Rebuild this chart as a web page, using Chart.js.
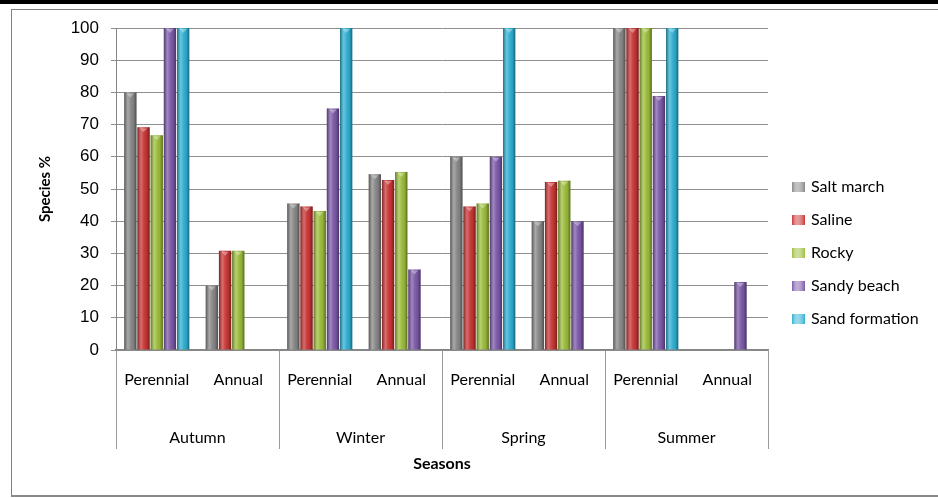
<!DOCTYPE html>
<html>
<head>
<meta charset="utf-8">
<script src="https://cdn.jsdelivr.net/npm/chart.js@4.4.1/dist/chart.umd.min.js"></script>
<style>
  html, body { margin: 0; padding: 0; background: #fff; }
  #wrap { position: relative; width: 938px; height: 498px; overflow: hidden; }
  #topbar { position: absolute; left: 0; top: 0; width: 938px; height: 4px; background: #000; }
  #frame { position: absolute; left: 11px; top: 9px; width: 940px; height: 485px;
           border: 1px solid #808080; border-bottom: 2px solid #8a8a8a; }
  canvas { position: absolute; left: 0; top: 0; }
</style>
</head>
<body>
<div id="wrap">
  <div id="topbar"></div>
  <div id="frame"></div>
  <canvas id="c" width="938" height="498"></canvas>
</div>
<script>
// Life-form categories, grouped by season
const lifeForms = ['Perennial', 'Annual', 'Perennial', 'Annual', 'Perennial', 'Annual', 'Perennial', 'Annual'];
const seasons = ['Autumn', 'Winter', 'Spring', 'Summer'];

// Species % per habitat (Autumn P/A, Winter P/A, Spring P/A, Summer P/A)
const saltMarch     = [80,   20,   45.5, 54.6, 60,   40,   100,  0];
const saline        = [69.2, 30.8, 44.6, 52.8, 44.6, 52.2, 100,  0];
const rocky         = [66.7, 30.8, 43.2, 55.3, 45.5, 52.6, 100,  0];
const sandyBeach    = [100,  0,    75,   25,   60,   40,   78.9, 21.1];
const sandFormation = [100,  0,    100,  0,    100,  0,    100,  0];

const habitatNames = ['Salt march', 'Saline', 'Rocky', 'Sandy beach', 'Sand formation'];
const habitatColors = ['#878787', '#c93434', '#9cbd3a', '#7b58a8', '#2eafd2'];
const yTickStep = 10;

const series = [saltMarch, saline, rocky, sandyBeach, sandFormation];

// Shades each bar like a cylinder: dark edges, bright stripe left of centre
const cylinderShade = {
  id: 'cylinderShade',
  afterDatasetsDraw(chart) {
    const ctx = chart.ctx;
    ctx.save();
    chart.data.datasets.forEach((ds, i) => {
      const meta = chart.getDatasetMeta(i);
      if (meta.hidden) return;
      meta.data.forEach(bar => {
        const { x, y, base, width } = bar.getProps(['x', 'y', 'base', 'width'], true);
        const h = base - y;
        if (!(h > 0)) return;
        const left = x - width / 2;
        const g = ctx.createLinearGradient(left, 0, left + width, 0);
        g.addColorStop(0, 'rgba(0,0,0,0.38)');
        g.addColorStop(0.3, 'rgba(255,255,255,0.28)');
        g.addColorStop(0.45, 'rgba(255,255,255,0.12)');
        g.addColorStop(0.75, 'rgba(0,0,0,0.06)');
        g.addColorStop(1, 'rgba(0,0,0,0.42)');
        ctx.fillStyle = g;
        ctx.fillRect(left, y, width, h);
        // lighter cap at the top of the cylinder
        ctx.fillStyle = 'rgba(255,255,255,0.35)';
        ctx.beginPath();
        ctx.moveTo(left + width * 0.2, y + 1);
        ctx.lineTo(left + width * 0.8, y + 1);
        ctx.lineTo(x, y + 5);
        ctx.closePath();
        ctx.fill();
      });
    });
    ctx.restore();
  }
};

// Legend listed to the right of the plot
const sideLegend = {
  id: 'sideLegend',
  afterDraw(chart, args, opts) {
    const { ctx, chartArea } = chart;
    ctx.save();
    ctx.font = opts.font;
    ctx.textBaseline = 'middle';
    ctx.textAlign = 'left';
    chart.data.datasets.forEach((ds, i) => {
      const y = opts.top + i * opts.spacing;
      const x = chartArea.right + opts.gap;
      const g = ctx.createLinearGradient(x, 0, x + 13, 0);
      g.addColorStop(0, ds.backgroundColor);
      g.addColorStop(0.4, 'rgba(255,255,255,0.5)');
      g.addColorStop(1, ds.backgroundColor);
      ctx.fillStyle = ds.backgroundColor;
      ctx.fillRect(x, y - 5, 13, 10);
      ctx.fillStyle = g;
      ctx.fillRect(x, y - 5, 13, 10);
      ctx.fillStyle = '#000';
      ctx.fillText(ds.label, x + 19, y);
    });
    ctx.restore();
  }
};

const labelFont = { family: 'Lato', size: 16 };

new Chart(document.getElementById('c'), {
  type: 'bar',
  data: {
    labels: lifeForms,
    datasets: series.map((values, i) => ({
      label: habitatNames[i],
      data: values,
      backgroundColor: habitatColors[i],
      borderWidth: 0,
      categoryPercentage: 0.81,
      barPercentage: 0.93,
      xAxisID: 'x',
      yAxisID: 'y'
    }))
  },
  options: {
    responsive: false,
    animation: false,
    layout: { padding: { left: 0, top: 28, right: 170, bottom: 0 } },
    plugins: {
      legend: { display: false },
      tooltip: { enabled: false },
      sideLegend: { top: 187, spacing: 33, gap: 24, font: '16px Lato' }
    },
    scales: {
      x: {
        type: 'category',
        position: 'bottom',
        weight: 0,
        offset: true,
        grid: {
          offset: true,
          drawOnChartArea: false,
          drawTicks: true,
          tickLength: 99,
          lineWidth: 1,
          color: c => (c.index === undefined || c.index % 2 === 0) ? '#9a9a9a' : 'rgba(0,0,0,0)'
        },
        border: { display: true, color: '#858585', width: 1.5 },
        ticks: { padding: -79, font: labelFont, color: '#000', maxRotation: 0, autoSkip: false },
        afterFit: s => { s.height = 40; }
      },
      x2: {
        type: 'category',
        labels: seasons,
        position: 'bottom',
        weight: 1,
        offset: true,
        grid: { display: false },
        border: { display: false },
        ticks: { padding: 30, font: labelFont, color: '#000', maxRotation: 0, autoSkip: false },
        title: {
          display: true, text: 'Seasons', color: '#000',
          font: { family: 'Lato', size: 16, weight: 'bold' },
          padding: { top: 0, bottom: 25 }
        },
        afterFit: s => { s.height = 108; }
      },
      y: {
        position: 'left',
        min: 0,
        max: 100,
        ticks: { stepSize: yTickStep, padding: 12, color: '#000', font: { family: 'Liberation Sans', size: 17 } },
        grid: { color: '#8f8f8f', lineWidth: 1, drawTicks: true, tickLength: 5 },
        border: { display: true, color: '#858585', width: 1 },
        title: {
          display: true, text: 'Species %', color: '#000',
          font: { family: 'Lato', size: 15, weight: 'bold' },
          padding: { top: 36, bottom: 0 }
        },
        afterFit: s => { s.width = 116; }
      }
    }
  },
  plugins: [cylinderShade, sideLegend]
});
</script>
</body>
</html>
